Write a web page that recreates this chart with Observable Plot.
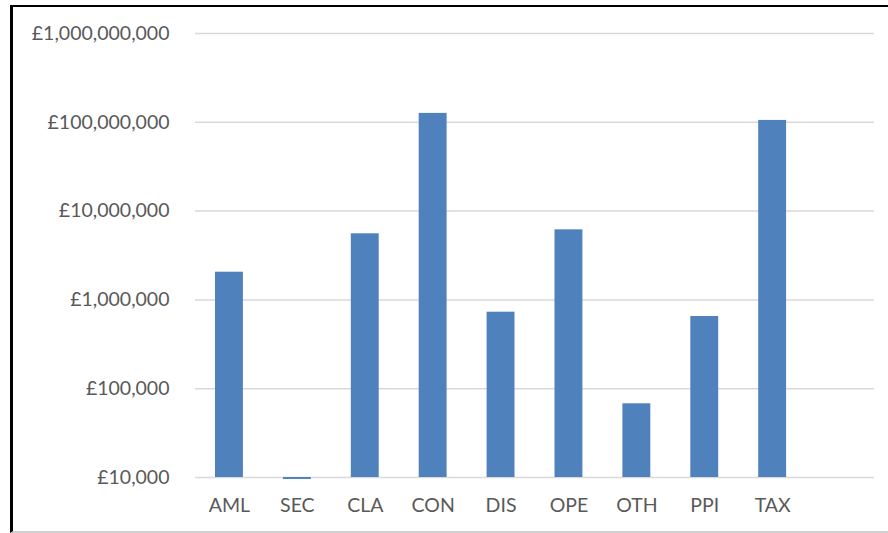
<!DOCTYPE html>
<html>
<head>
<meta charset="utf-8">
<script src="https://cdn.jsdelivr.net/npm/d3@7"></script>
<script src="https://cdn.jsdelivr.net/npm/@observablehq/plot@0.6"></script>
<style>
  html, body { margin: 0; padding: 0; background: #fff; }
  body { width: 888px; height: 533px; overflow: hidden; position: relative; }
  #frame {
    position: absolute; left: 10px; top: 5px;
    width: 875px; height: 524px;
    border-left: 3px solid #000; border-top: 2px solid #000;
    border-bottom: 2px solid #d0d0d0;
  }
  #frame svg { display: block; }
</style>
</head>
<body>
<div id="frame"></div>
<script>
const categories = ["AML", "SEC", "CLA", "CON", "DIS", "OPE", "OTH", "PPI", "TAX"];
const values = [2050000, 9500, 5550000, 126000000, 727000, 6150000, 67600, 650000, 105000000];
const yTicks = [1e4, 1e5, 1e6, 1e7, 1e8, 1e9];

const data = categories.map((c, i) => ({category: c, value: values[i]}));
const fmt = d3.format(",");

const chart = Plot.plot({
  width: 875,
  height: 524,
  marginLeft: 182,
  marginRight: 14,
  marginTop: 26,
  marginBottom: 54,
  style: {fontFamily: "Lato, 'Open Sans', sans-serif", fontSize: "19.5px", color: "#595959", background: "#fff"},
  x: {domain: [...categories, "_"], padding: 0, round: false, label: null},
  y: {type: "log", domain: [1e4, 1e9], label: null},
  marks: [
    Plot.gridY(yTicks, {stroke: "#d9d9d9", strokeOpacity: 1, strokeWidth: 1.5}),
    Plot.rectY(data, {x: "category", y1: 1e4, y2: "value", fill: "#4f81bd", insetLeft: 20, insetRight: 20}),
    Plot.axisY({ticks: yTicks, tickSize: 0, tickPadding: 26, tickFormat: d => "£" + fmt(d), fill: "#595959", label: null}),
    Plot.axisX({tickSize: 0, tickPadding: 21, tickFormat: d => d === "_" ? "" : d, fill: "#595959", label: null})
  ]
});
document.getElementById("frame").appendChild(chart);
</script>
</body>
</html>
